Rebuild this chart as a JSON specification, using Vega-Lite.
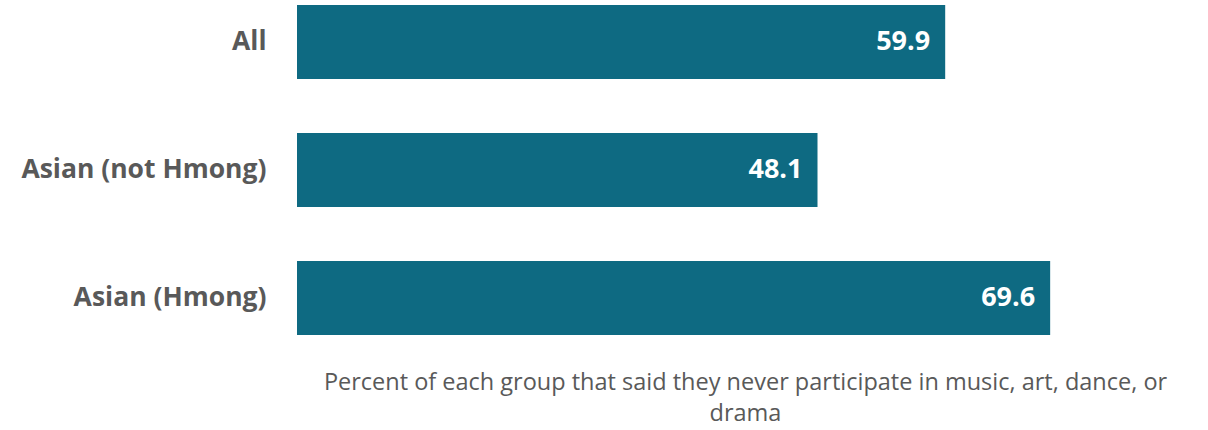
{
  "$schema": "https://vega.github.io/schema/vega-lite/v6.json",
  "width": 896,
  "height": 330,
  "autosize": {"type": "none"},
  "padding": {"left": 297, "top": 5, "right": 15, "bottom": 95},
  "background": "white",
  "config": {"view": {"stroke": null}, "font": "Open Sans"},
  "data": {
    "values": [
      {"group": "All", "value": 59.9},
      {"group": "Asian (not Hmong)", "value": 48.1},
      {"group": "Asian (Hmong)", "value": 69.6}
    ]
  },
  "encoding": {
    "y": {
      "field": "group",
      "type": "nominal",
      "sort": null,
      "scale": {"paddingInner": 0.422, "paddingOuter": 0},
      "axis": {
        "title": null,
        "domain": false,
        "ticks": false,
        "labelPadding": 31,
        "labelLimit": 400,
        "labelFont": "Open Sans",
        "labelFontWeight": "bold",
        "labelFontSize": 26.5,
        "labelColor": "#595959"
      }
    },
    "x": {
      "field": "value",
      "type": "quantitative",
      "scale": {"domain": [0, 82.8], "nice": false, "zero": true},
      "axis": {
        "title": ["Percent of each group that said they never participate in music, art, dance, or", "drama"],
        "titleFont": "Open Sans",
        "titleFontWeight": "normal",
        "titleFontSize": 23.5,
        "titleColor": "#595959",
        "titleLineHeight": 31,
        "titlePadding": 35,
        "labels": false,
        "ticks": false,
        "domain": false,
        "grid": false
      }
    }
  },
  "layer": [
    {"mark": {"type": "bar", "color": "#0E6A82"}},
    {
      "mark": {"type": "text", "align": "right", "baseline": "middle", "dx": -15, "color": "white", "font": "Open Sans", "fontWeight": "bold", "fontSize": 27},
      "encoding": {"text": {"field": "value", "type": "quantitative", "format": ".1f"}}
    }
  ]
}
